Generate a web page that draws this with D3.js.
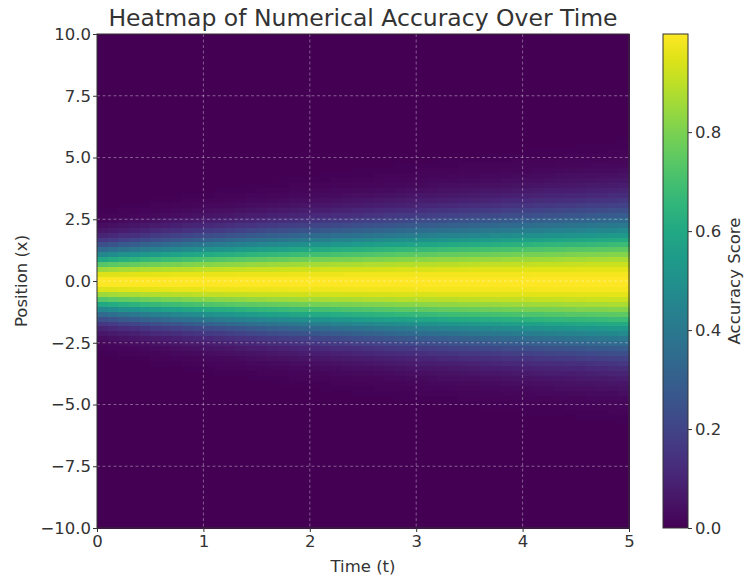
<!DOCTYPE html>
<html>
<head>
<meta charset="utf-8">
<script src="https://cdn.jsdelivr.net/npm/d3@7"></script>
<style>
  body { margin: 0; background: #fff; }
  text { font-family: "DejaVu Sans", sans-serif; fill: #333; }
</style>
</head>
<body>
<svg id="chart" width="745" height="579"></svg>
<script>
// ---- data ----
const timeSteps = d3.range(50).map(j => j * 5 / 49);          // time columns
const positions = d3.range(100).map(i => -10 + i * 20 / 99);  // position rows
// squared spread of the accuracy band for each time column (estimated)
const bandSpread = [0.80,0.84,0.89,0.93,0.98,1.02,1.07,1.11,1.16,1.20,
                    1.25,1.29,1.34,1.38,1.43,1.47,1.52,1.56,1.61,1.65,
                    1.70,1.74,1.79,1.83,1.88,1.92,1.97,2.01,2.06,2.10,
                    2.15,2.19,2.24,2.28,2.33,2.37,2.42,2.46,2.51,2.55,
                    2.60,2.64,2.69,2.73,2.78,2.82,2.87,2.91,2.96,3.00];
const xTicks = [0, 1, 2, 3, 4, 5];
const yTicks = [-10, -7.5, -5, -2.5, 0, 2.5, 5, 7.5, 10];
const cbTicks = [0, 0.2, 0.4, 0.6, 0.8];

const cells = [];
timeSteps.forEach((t, j) => positions.forEach((x, i) => {
  cells.push({ j, i, v: Math.exp(-x * x / (2 * bandSpread[j])) });
}));
const vmax = d3.max(cells, d => d.v);

// ---- layout ----
const svg = d3.select("#chart");
const L = 97, R = 629, T = 34, B = 528;
const xScale = d3.scaleLinear().domain([0, 5]).range([L, R]);
const yScale = d3.scaleLinear().domain([-10, 10]).range([B, T]);
const color = d3.scaleSequential(d3.interpolateViridis).domain([0, vmax]);

const dt = 5 / 50, dx = 20 / 100;
svg.append("g").attr("shape-rendering", "crispEdges")
  .selectAll("rect").data(cells).join("rect")
  .attr("x", d => xScale(d.j * dt))
  .attr("y", d => yScale(-10 + (d.i + 1) * dx))
  .attr("width", d => xScale((d.j + 1) * dt) - xScale(d.j * dt) + 1)
  .attr("height", d => yScale(-10 + d.i * dx) - yScale(-10 + (d.i + 1) * dx) + 1)
  .attr("fill", d => color(d.v));

// grid
const grid = svg.append("g").attr("stroke", "rgba(255,255,255,0.45)")
  .attr("stroke-width", 0.8).attr("stroke-dasharray", "3,2.5");
grid.selectAll("line.gx").data(xTicks.slice(1, -1)).join("line")
  .attr("x1", d => xScale(d)).attr("x2", d => xScale(d)).attr("y1", T).attr("y2", B);
grid.selectAll("line.gy").data(yTicks.slice(1, -1)).join("line")
  .attr("y1", d => yScale(d)).attr("y2", d => yScale(d)).attr("x1", L).attr("x2", R);

// axes
const fmtY = d => (d < 0 ? "\u2212" : "") + Math.abs(d).toFixed(1);
const xAxis = svg.append("g").attr("transform", `translate(0,${B})`)
  .call(d3.axisBottom(xScale).tickValues(xTicks).tickFormat(d3.format("d")).tickSize(4).tickPadding(3));
const yAxis = svg.append("g").attr("transform", `translate(${L},0)`)
  .call(d3.axisLeft(yScale).tickValues(yTicks).tickFormat(fmtY).tickSize(4).tickPadding(2));
[xAxis, yAxis].forEach(a => {
  a.select(".domain").remove();
  a.selectAll("line").attr("stroke", "#333");
  a.selectAll("text").style("font-size", "16.5px").style("fill", "#333").style("font-family", "DejaVu Sans");
});
svg.append("rect").attr("x", L).attr("y", T).attr("width", R - L).attr("height", B - T)
  .attr("fill", "none").attr("stroke", "#333").attr("stroke-width", 1);

// title & labels
svg.append("text").attr("x", (L + R) / 2).attr("y", 26).attr("text-anchor", "middle")
  .style("font-size", "23.5px").text("Heatmap of Numerical Accuracy Over Time");
svg.append("text").attr("x", (L + R) / 2).attr("y", 572).attr("text-anchor", "middle")
  .style("font-size", "16.5px").text("Time (t)");
svg.append("text").attr("transform", `translate(27,${(T + B) / 2}) rotate(-90)`)
  .attr("text-anchor", "middle").style("font-size", "16.5px").text("Position (x)");

// colorbar
const cbL = 663, cbW = 25;
const cbScale = d3.scaleLinear().domain([0, vmax]).range([B, T]);
const defs = svg.append("defs");
const grad = defs.append("linearGradient").attr("id", "cbgrad")
  .attr("x1", 0).attr("y1", 1).attr("x2", 0).attr("y2", 0);
d3.range(0, 1.0001, 0.05).forEach(p => {
  grad.append("stop").attr("offset", p).attr("stop-color", d3.interpolateViridis(p));
});
svg.append("rect").attr("x", cbL).attr("y", T).attr("width", cbW).attr("height", B - T)
  .attr("fill", "url(#cbgrad)").attr("stroke", "#333").attr("stroke-width", 1);
const cbAxis = svg.append("g").attr("transform", `translate(${cbL + cbW},0)`)
  .call(d3.axisRight(cbScale).tickValues(cbTicks).tickFormat(d3.format(".1f")).tickSize(4).tickPadding(3));
cbAxis.select(".domain").remove();
cbAxis.selectAll("line").attr("stroke", "#333");
cbAxis.selectAll("text").style("font-size", "16.5px").style("fill", "#333").style("font-family", "DejaVu Sans");
svg.append("text").attr("transform", `translate(740,${(T + B) / 2}) rotate(-90)`)
  .attr("text-anchor", "middle").style("font-size", "16.5px").text("Accuracy Score");
</script>
</body>
</html>
